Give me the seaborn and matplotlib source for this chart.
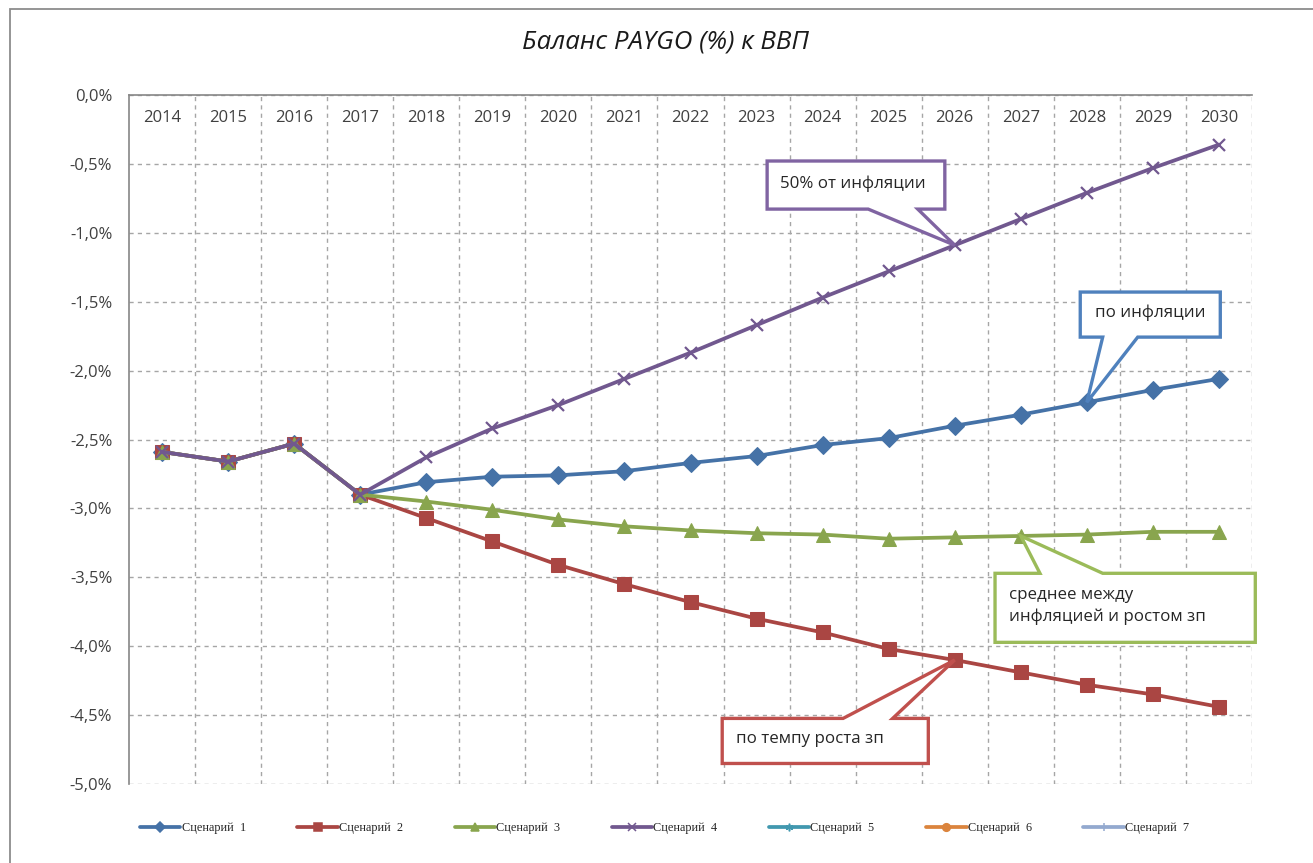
import numpy as np
import pandas as pd
import matplotlib
matplotlib.use("Agg")
import matplotlib.pyplot as plt
from matplotlib.patches import Polygon, Rectangle
from matplotlib.lines import Line2D
import seaborn as sns

# ---------------- data ----------------
years = [2014, 2015, 2016, 2017, 2018, 2019, 2020, 2021, 2022, 2023,
         2024, 2025, 2026, 2027, 2028, 2029, 2030]
scenario_1 = [-2.59, -2.66, -2.53, -2.90, -2.81, -2.77, -2.76, -2.73, -2.67,
              -2.62, -2.54, -2.49, -2.40, -2.32, -2.23, -2.14, -2.06]
scenario_2 = [-2.59, -2.66, -2.53, -2.90, -3.07, -3.24, -3.41, -3.55, -3.68,
              -3.80, -3.90, -4.02, -4.10, -4.19, -4.28, -4.35, -4.44]
scenario_3 = [-2.59, -2.66, -2.53, -2.90, -2.95, -3.01, -3.08, -3.13, -3.16,
              -3.18, -3.19, -3.22, -3.21, -3.20, -3.19, -3.17, -3.17]
scenario_4 = [-2.59, -2.66, -2.53, -2.90, -2.63, -2.42, -2.25, -2.06, -1.87,
              -1.67, -1.47, -1.28, -1.09, -0.90, -0.71, -0.53, -0.36]
legend_labels = ["Сценарий  1", "Сценарий  2", "Сценарий  3", "Сценарий  4",
                 "Сценарий  5", "Сценарий  6", "Сценарий  7"]
y_ticks = [0.0, -0.5, -1.0, -1.5, -2.0, -2.5, -3.0, -3.5, -4.0, -4.5, -5.0]
title = "Баланс PAYGO (%) к ВВП"

# ---------------- style ----------------
sns.set_theme(style="white")
plt.rcParams["font.family"] = ["Open Sans", "DejaVu Sans"]

fig = plt.figure(figsize=(13.13, 8.63), dpi=100)
ax = fig.add_axes([129 / 1313, 1 - 784 / 863, (1252 - 129) / 1313, (784 - 95) / 863])

# figure border (chart area frame)
fig.patches.append(Rectangle((10 / 1313, -0.1), 1.2, 1 - 9 / 863 + 0.1,
                             transform=fig.transFigure, fill=False,
                             edgecolor="#8c8c8c", linewidth=1.3, zorder=0))

colors = ["#4572A7", "#AA4643", "#89A54E", "#71588F", "#4198AF", "#DB843D", "#93A9CF"]
markers = ["D", "s", "^", "x", (6, 2, 0), "o", "+"]
msizes = [9, 9.5, 10, 9, 8, 6, 8]

x_idx = np.arange(len(years))
series = [scenario_1, scenario_2, scenario_3, scenario_4]
for i, s in enumerate(series):
    df = pd.DataFrame({"x": x_idx, "y": s})
    kw = dict(marker=markers[i], markersize=msizes[i], color=colors[i],
              linewidth=2.7, markeredgecolor=colors[i], zorder=3 + i)
    if markers[i] == "x":
        kw["markeredgewidth"] = 1.6
    sns.lineplot(data=df, x="x", y="y", ax=ax, legend=False, **kw)

ax.set_xlim(-0.5, 16.5)
ax.set_ylim(-5.0, 0.0)
ax.set_xlabel("")
ax.set_ylabel("")

# y axis
ax.set_yticks(y_ticks)
ax.set_yticklabels([("%.1f%%" % v).replace(".", ",") for v in y_ticks],
                   fontsize=12, color="#404040")
ax.tick_params(axis="y", direction="out", length=6, width=1, color="#868686", pad=6)

# x axis: category separators as grid, labels inside under top axis line
ax.set_xticks(np.arange(0.5, len(years), 1))
ax.set_xticklabels([])
ax.tick_params(axis="x", length=0)
for i, yr in enumerate(years):
    ax.text(i, -0.167, str(yr), ha="center", va="center", fontsize=12, color="#404040")

ax.grid(True, axis="both", color="#A6A6A6", linestyle=(0, (3, 3)), linewidth=1)
for side in ["right", "bottom"]:
    ax.spines[side].set_visible(False)
for side in ["left", "top"]:
    ax.spines[side].set_color("#868686")
    ax.spines[side].set_linewidth(1.2)
ax.set_facecolor("white")

# ---------------- callouts ----------------
def callout(x0, x1, ytop, ybot, wa, wb, tip, edge, where):
    if where == "bottom":
        verts = [(x0, ytop), (x1, ytop), (x1, ybot), (wb, ybot), tip, (wa, ybot), (x0, ybot)]
    else:
        verts = [(x0, ytop), (wa, ytop), tip, (wb, ytop), (x1, ytop), (x1, ybot), (x0, ybot)]
    ax.add_patch(Polygon(verts, closed=True, facecolor="white", edgecolor=edge,
                         linewidth=2.4, zorder=10, clip_on=False, joinstyle="miter"))

fs_call = 12.2
callout(9.16, 11.85, -0.479, -0.828, 10.69, 11.44, (12, scenario_4[12]), "#8064A2", "bottom")
ax.text(9.36, -0.645, "50% от инфляции", fontsize=fs_call, ha="left", va="center", zorder=11)

callout(13.90, 16.02, -1.430, -1.757, 14.24, 14.77, (14, scenario_1[14]), "#4F81BD", "bottom")
ax.text(14.12, -1.58, "по инфляции", fontsize=fs_call, ha="left", va="center", zorder=11)

callout(12.61, 16.55, -3.471, -3.972, 13.29, 14.24, (13, scenario_3[13]), "#9BBB59", "top")
ax.text(12.82, -3.71, "среднее между\nинфляцией и ростом зп", fontsize=fs_call,
        ha="left", va="center", linespacing=1.4, zorder=11)

callout(8.48, 11.60, -4.524, -4.851, 10.31, 11.06, (12, scenario_2[12]), "#C0504D", "top")
ax.text(8.69, -4.67, "по темпу роста зп", fontsize=fs_call, ha="left", va="center", zorder=11)

# ---------------- title ----------------
fig.text(665 / 1313, 1 - 42 / 863, title, ha="center", va="center", fontsize=18.6,
         fontstyle="italic", color="#1a1a1a")

# ---------------- legend ----------------
handles = []
for i, lab in enumerate(legend_labels):
    mk = markers[i]
    h = Line2D([], [], color=colors[i], linewidth=2.7, marker=mk,
               markersize=5.5, markeredgecolor=colors[i], markeredgewidth=1.1, label=lab)
    handles.append(h)
leg = fig.legend(handles=handles, loc="center left", ncol=7,
                 bbox_to_anchor=(140 / 1313, 1 - 828 / 863), frameon=False,
                 prop={"family": ["Liberation Serif"], "size": 8.8},
                 handlelength=3.3, handletextpad=0.1, columnspacing=4.22,
                 borderaxespad=0, borderpad=0)

fig.savefig("out.png", dpi=100, facecolor="white")
